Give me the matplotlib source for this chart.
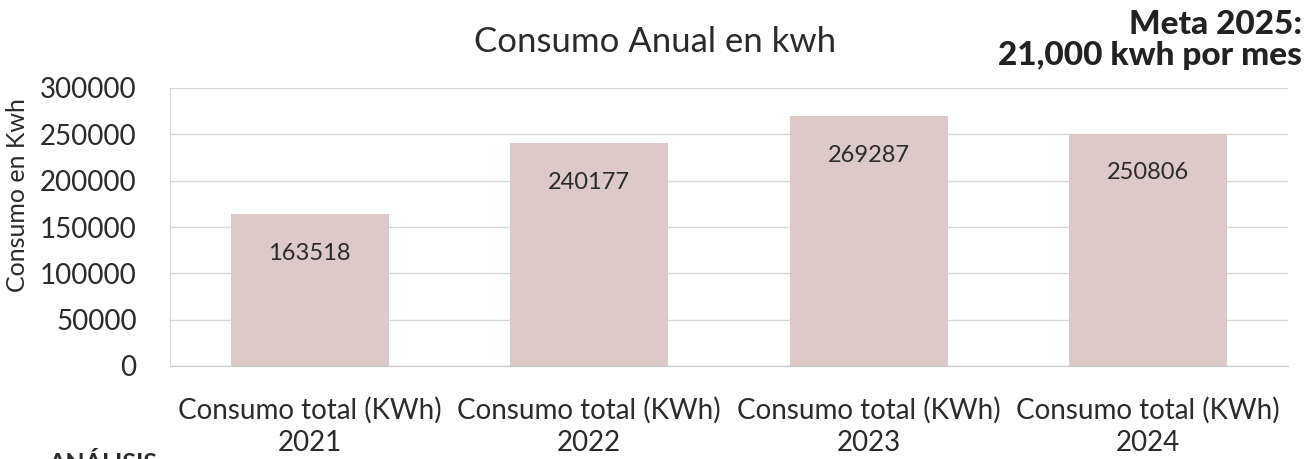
import matplotlib.pyplot as plt

plt.rcParams['font.family'] = ['Lato', 'DejaVu Sans']

years = ['2021', '2022', '2023', '2024']
consumo = [163518, 240177, 269287, 250806]
labels = ['Consumo total (KWh)\n' + y for y in years]
yticks = [0, 50000, 100000, 150000, 200000, 250000, 300000]

bar_color = '#ddc9c5'
text_color = '#2b2b2b'
grid_color = '#d9d9d9'

fig = plt.figure(figsize=(13.08, 4.59), dpi=100)
ax = fig.add_axes([170 / 1308, 1 - 366 / 459, 1118 / 1308, 278 / 459])

x = range(len(years))
bars = ax.bar(x, consumo, width=0.565, color=bar_color, zorder=2)

# value labels a bit under the top of each bar
for b, v in zip(bars, consumo):
    ax.text(b.get_x() + b.get_width() / 2, v - 42000, str(v),
            ha='center', va='center', fontsize=17, color=text_color, zorder=3)

ax.set_xlim(-0.5, len(years) - 0.5)
ax.set_ylim(0, 300000)
ax.set_yticks(yticks)
ax.set_yticklabels([str(t) for t in yticks], fontsize=20, color=text_color)
ax.set_xticks(list(x))
ax.set_xticklabels(labels, fontsize=20, color=text_color, linespacing=1.3)
ax.tick_params(axis='y', length=0, pad=24)
ax.tick_params(axis='x', length=0, pad=22)

ax.grid(axis='y', color=grid_color, linewidth=1, zorder=0)
for s in ['top', 'right']:
    ax.spines[s].set_visible(False)
ax.spines['left'].set_color(grid_color)
ax.spines['bottom'].set_color('#c8c8c8')

ax.set_ylabel('Consumo en Kwh', fontsize=18, color=text_color, va='center')
ax.yaxis.set_label_coords(-0.136, 0.615)

fig.text(655 / 1308, 1 - 42 / 459, 'Consumo Anual en kwh', ha='center', va='center',
         fontsize=25, color=text_color)
fig.text(1302 / 1308, 1 - 40 / 459, 'Meta 2025:\n21,000 kwh por mes', ha='right',
         va='center', fontsize=24, fontweight='black', color='#222222', linespacing=1.1)
fig.text(48 / 1308, 1 - 452 / 459, 'ANÁLISIS', ha='left', va='top',
         fontsize=18, fontweight='bold', color=text_color)

fig.savefig('out.png', dpi=100, facecolor='white')
